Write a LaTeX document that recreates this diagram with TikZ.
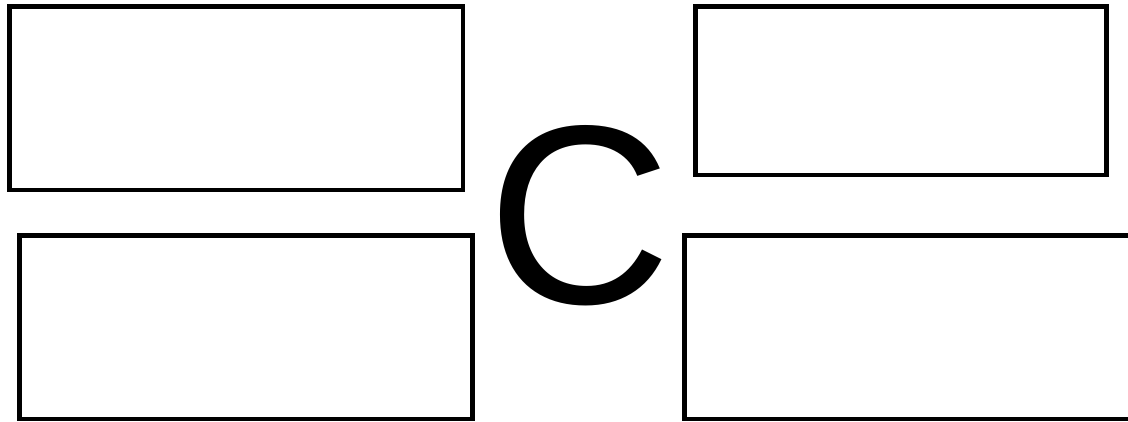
\documentclass[tikz,border=0pt]{standalone}
\usepackage{fontspec}
\setmainfont{Liberation Sans}
\begin{document}
\begin{tikzpicture}[x=1pt,y=1pt,
  boxnode/.style={draw=black,line width=4.5pt,fill=none,inner sep=0pt,outer sep=0pt,anchor=center,miter limit=10}]
\useasboundingbox (0,0) rectangle (1128,421);
\clip (0,0) rectangle (1128,421);
\fill[white] (0,0) rectangle (1128,421);
\node[boxnode,minimum width=453.5pt,minimum height=183.5pt] (b1) at (236.25,322.75) {};
\node[boxnode,minimum width=453pt,minimum height=183.5pt] (b2) at (246,93.75) {};
\node[boxnode,minimum width=411pt,minimum height=168.5pt] (b3) at (901,330.25) {};
\node[boxnode,minimum width=455.5pt,minimum height=183.5pt] (b4) at (912.25,93.75) {};
\node[inner sep=0pt,outer sep=0pt,anchor=base west,font=\fontsize{255}{255}\selectfont] (c) at (487,117.5) {C};
\end{tikzpicture}
\end{document}
